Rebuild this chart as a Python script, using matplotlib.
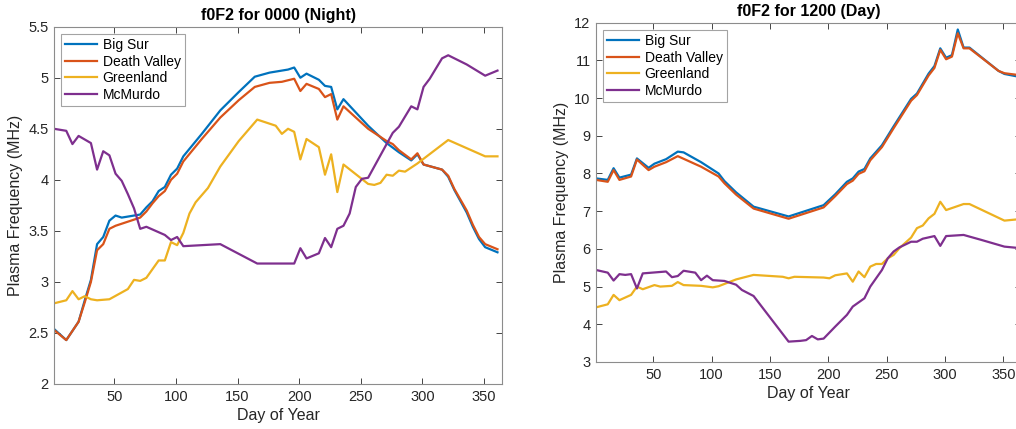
import matplotlib
matplotlib.use("Agg")
import matplotlib.pyplot as plt

plt.rcParams['font.family'] = ['Liberation Sans', 'DejaVu Sans']

names = ["Big Sur", "Death Valley", "Greenland", "McMurdo"]
colors = ["#0072BD", "#D95319", "#EDB120", "#7E2F8E"]

# ---- 0000 UT (night) ----
night_bigsur_day = [1, 11, 21, 26, 31, 36, 41, 46, 51, 56, 61, 66, 71, 76, 81, 86, 91, 96, 101, 106,
                    121, 136, 151, 164, 176, 186, 191, 196, 201, 206, 216, 221, 226, 231, 236, 256,
                    271, 281, 291, 296, 301, 316, 321, 326, 336, 341, 346, 351, 361]
night_bigsur = [2.54, 2.43, 2.61, 2.82, 3.02, 3.37, 3.44, 3.60, 3.65, 3.63, 3.64, 3.65, 3.66, 3.73, 3.79,
                3.89, 3.93, 4.05, 4.11, 4.23, 4.45, 4.68, 4.86, 5.01, 5.05, 5.07, 5.08, 5.10, 5.00, 5.04,
                4.98, 4.92, 4.91, 4.69, 4.79, 4.53, 4.36, 4.27, 4.19, 4.25, 4.15, 4.10, 4.03, 3.90, 3.68,
                3.54, 3.42, 3.34, 3.29]

night_dv_day = [1, 11, 21, 26, 31, 36, 41, 46, 51, 56, 61, 66, 71, 76, 81, 86, 91, 96, 101, 106,
                121, 136, 151, 164, 176, 186, 196, 201, 206, 216, 221, 226, 231, 236, 256, 271, 276,
                281, 291, 296, 301, 316, 321, 326, 336, 341, 346, 351, 361]
night_dv = [2.53, 2.43, 2.61, 2.80, 3.00, 3.31, 3.37, 3.52, 3.55, 3.57, 3.59, 3.61, 3.63, 3.69, 3.77,
            3.84, 3.89, 4.00, 4.06, 4.18, 4.40, 4.61, 4.78, 4.91, 4.95, 4.96, 4.99, 4.87, 4.94, 4.89,
            4.81, 4.84, 4.59, 4.72, 4.50, 4.38, 4.35, 4.29, 4.20, 4.26, 4.15, 4.10, 4.04, 3.91, 3.70,
            3.56, 3.44, 3.37, 3.32]

night_gl_day = [1, 11, 16, 21, 26, 31, 36, 46, 61, 66, 71, 76, 86, 91, 96, 101, 106, 111, 116, 126,
                136, 151, 166, 181, 186, 191, 196, 201, 206, 216, 221, 226, 231, 236, 256, 261, 266,
                271, 276, 281, 286, 296, 321, 336, 351, 361]
night_gl = [2.79, 2.82, 2.91, 2.83, 2.86, 2.83, 2.82, 2.83, 2.93, 3.02, 3.01, 3.04, 3.21, 3.21, 3.39,
            3.36, 3.48, 3.67, 3.78, 3.92, 4.13, 4.38, 4.59, 4.53, 4.45, 4.50, 4.47, 4.20, 4.40, 4.32,
            4.05, 4.25, 3.88, 4.15, 3.96, 3.95, 3.97, 4.05, 4.04, 4.09, 4.08, 4.16, 4.39, 4.31, 4.23,
            4.23]

night_mc_day = [1, 11, 16, 21, 31, 36, 41, 46, 51, 56, 61, 66, 71, 76, 91, 96, 101, 106, 136, 166,
                196, 201, 206, 216, 221, 226, 231, 236, 241, 246, 251, 256, 276, 281, 291, 296, 301,
                306, 316, 321, 336, 351, 361]
night_mc = [4.50, 4.48, 4.35, 4.43, 4.36, 4.10, 4.28, 4.24, 4.06, 3.99, 3.86, 3.72, 3.52, 3.54, 3.46,
            3.41, 3.44, 3.35, 3.37, 3.18, 3.18, 3.33, 3.23, 3.28, 3.43, 3.34, 3.52, 3.55, 3.67, 3.93,
            4.01, 4.02, 4.46, 4.52, 4.72, 4.69, 4.91, 4.99, 5.19, 5.22, 5.13, 5.02, 5.07]

# ---- 1200 UT (day) ----
day_bigsur_day = [1, 11, 16, 21, 31, 36, 46, 51, 61, 71, 76, 91, 106, 111, 121, 136, 166, 176, 181,
                  196, 206, 216, 221, 226, 231, 236, 246, 256, 271, 276, 286, 291, 296, 301, 306,
                  311, 316, 321, 346, 351, 361]
day_bigsur = [7.87, 7.83, 8.14, 7.89, 7.97, 8.40, 8.15, 8.26, 8.38, 8.58, 8.56, 8.30, 8.00, 7.80, 7.50,
              7.12, 6.86, 6.96, 7.01, 7.16, 7.45, 7.78, 7.87, 8.05, 8.12, 8.40, 8.75, 9.25, 9.98, 10.12,
              10.65, 10.85, 11.32, 11.07, 11.14, 11.82, 11.34, 11.34, 10.72, 10.64, 10.58]

day_dv_day = [1, 11, 16, 21, 31, 36, 46, 51, 61, 71, 91, 106, 111, 121, 136, 166, 176, 196, 206, 216,
              221, 226, 231, 236, 246, 256, 271, 276, 286, 291, 296, 301, 306, 311, 316, 321, 346,
              351, 361]
day_dv = [7.83, 7.78, 8.09, 7.83, 7.92, 8.37, 8.09, 8.18, 8.30, 8.46, 8.18, 7.92, 7.74, 7.44, 7.07,
          6.80, 6.90, 7.10, 7.40, 7.72, 7.81, 7.99, 8.06, 8.35, 8.70, 9.20, 9.93, 10.08, 10.60, 10.80,
          11.28, 11.03, 11.10, 11.72, 11.32, 11.32, 10.72, 10.66, 10.62]

day_gl_day = [1, 11, 16, 21, 31, 36, 41, 51, 56, 66, 71, 76, 91, 101, 106, 121, 136, 161, 166, 171,
              196, 201, 206, 216, 221, 226, 231, 236, 241, 246, 251, 256, 261, 271, 276, 281, 286,
              291, 296, 301, 316, 321, 351, 361]
day_gl = [4.45, 4.53, 4.78, 4.64, 4.78, 5.00, 4.93, 5.04, 5.00, 5.02, 5.12, 5.04, 5.02, 4.98, 5.01,
          5.19, 5.31, 5.26, 5.22, 5.26, 5.24, 5.22, 5.30, 5.35, 5.13, 5.40, 5.25, 5.53, 5.60, 5.60,
          5.75, 5.84, 6.02, 6.30, 6.55, 6.62, 6.81, 6.93, 7.25, 7.03, 7.19, 7.19, 6.75, 6.78]

day_mc_day = [1, 11, 16, 21, 26, 31, 36, 41, 61, 66, 71, 76, 86, 91, 96, 101, 111, 121, 126, 136,
              166, 176, 181, 186, 191, 196, 206, 216, 221, 231, 236, 246, 251, 256, 261, 271, 276,
              281, 291, 296, 301, 316, 331, 351, 361]
day_mc = [5.44, 5.37, 5.16, 5.33, 5.31, 5.33, 4.95, 5.35, 5.40, 5.25, 5.28, 5.42, 5.37, 5.17, 5.29,
          5.17, 5.15, 5.05, 4.91, 4.75, 3.54, 3.56, 3.58, 3.69, 3.60, 3.62, 3.94, 4.25, 4.47, 4.69,
          5.00, 5.44, 5.75, 5.93, 6.04, 6.19, 6.19, 6.27, 6.34, 6.08, 6.34, 6.37, 6.24, 6.06, 6.03]


def draw(ax, series, title, ylim, yticks, yticklabels):
    for (d, v), name, c in zip(series, names, colors):
        ax.plot(d, v, color=c, linewidth=1.6, label=name)
    ax.set_xlim(1, 365)
    ax.set_ylim(*ylim)
    ax.set_xticks([50, 100, 150, 200, 250, 300, 350])
    ax.set_yticks(yticks)
    ax.set_yticklabels(yticklabels)
    ax.set_title(title, fontsize=11.5, fontweight='bold', color='#000000', pad=5)
    ax.set_xlabel("Day of Year", fontsize=11.5, color='#262626', labelpad=3)
    ax.set_ylabel("Plasma Frequency (MHz)", fontsize=11.5, color='#262626')
    ax.tick_params(direction='in', length=4, width=0.6, top=True, right=True,
                   labelsize=10.5, colors='#262626', pad=4)
    for s in ax.spines.values():
        s.set_color('#8c8c8c')
        s.set_linewidth(0.8)
    leg = ax.legend(loc='upper left', fontsize=10, frameon=True, fancybox=False,
                    edgecolor='#8c8c8c', handlelength=2.3, borderpad=0.3,
                    labelspacing=0.2, handletextpad=0.4, borderaxespad=0.5)
    leg.get_frame().set_linewidth(0.8)


fig = plt.figure(figsize=(10.16, 4.29), dpi=100)
ax1 = fig.add_axes([0.0531, 0.1049, 0.4414, 0.8329])
ax2 = fig.add_axes([0.5867, 0.1562, 0.4180, 0.7909])

draw(ax1, [(night_bigsur_day, night_bigsur), (night_dv_day, night_dv),
           (night_gl_day, night_gl), (night_mc_day, night_mc)],
     "f0F2 for 0000 (Night)", (2, 5.5),
     [2, 2.5, 3, 3.5, 4, 4.5, 5, 5.5], ["2", "2.5", "3", "3.5", "4", "4.5", "5", "5.5"])
draw(ax2, [(day_bigsur_day, day_bigsur), (day_dv_day, day_dv),
           (day_gl_day, day_gl), (day_mc_day, day_mc)],
     "f0F2 for 1200 (Day)", (3, 12),
     list(range(3, 13)), [str(v) for v in range(3, 13)])

fig.savefig("out.png", dpi=100)
